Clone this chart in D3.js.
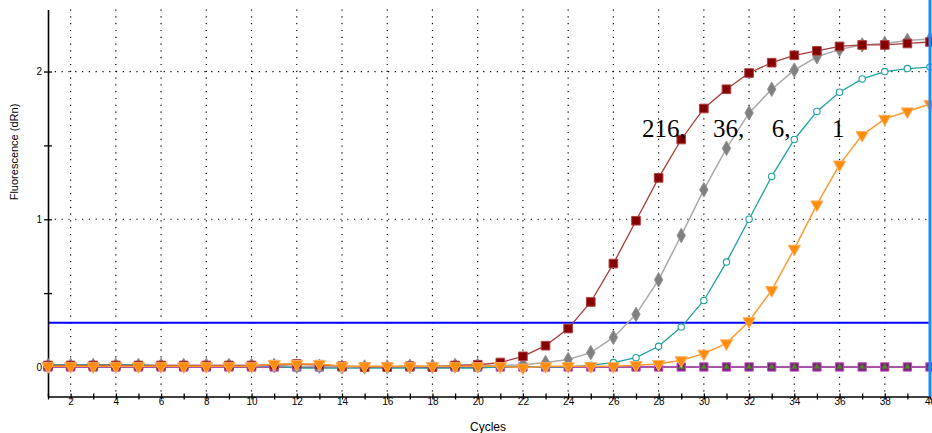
<!DOCTYPE html>
<html>
<head>
<meta charset="utf-8">
<script src="https://cdn.jsdelivr.net/npm/d3@7"></script>
<style>
    body { margin: 0; background: #fff; }
    svg { display: block; }
</style>
</head>
<body>
<div id="chart-area"></div>
<script>
// amplification curves, one value per cycle (1..40)
var cycles = d3.range(1, 41);

var s216 = [0.01, 0.01, 0.01, 0.01, 0.01, 0.01, 0.01, 0.01, 0.01, 0.01,
    0.015, 0.02, 0.015, 0.005, 0.0, 0.0, 0.005, 0.0, 0.01, 0.015,
    0.03, 0.072, 0.144, 0.26, 0.44, 0.70, 0.99, 1.28, 1.54, 1.75,
    1.88, 1.99, 2.06, 2.11, 2.14, 2.17, 2.18, 2.18, 2.19, 2.20];

var s36 = [0.01, 0.01, 0.01, 0.01, 0.01, 0.01, 0.01, 0.01, 0.01, 0.01,
    0.01, 0.005, 0.005, 0.0, 0.0, 0.0, 0.005, 0.005, 0.01, 0.01,
    0.01, 0.015, 0.03, 0.05, 0.097, 0.20, 0.356, 0.59, 0.89, 1.20,
    1.48, 1.72, 1.88, 2.01, 2.10, 2.15, 2.18, 2.19, 2.21, 2.22];

var s6 = [0.015, 0.015, 0.015, 0.015, 0.015, 0.008, 0.008, 0.008, 0.008, 0.008,
    0.008, -0.008, -0.008, -0.008, -0.008, -0.008, -0.008, -0.008, -0.008, -0.008,
    0.0, 0.0, 0.0, 0.0, 0.012, 0.03, 0.063, 0.14, 0.27, 0.45,
    0.71, 1.00, 1.29, 1.54, 1.73, 1.86, 1.95, 2.00, 2.02, 2.03];

var s1 = [0.005, 0.005, 0.005, 0.005, 0.005, 0.005, 0.005, 0.005, 0.005, 0.005,
    0.02, 0.02, 0.02, 0.005, 0.005, 0.005, 0.005, 0.005, 0.005, 0.005,
    0.005, -0.005, 0.005, 0.005, 0.005, 0.005, 0.012, 0.02, 0.045, 0.09,
    0.16, 0.31, 0.52, 0.80, 1.10, 1.37, 1.57, 1.68, 1.73, 1.78];

var sNeg = [0, 0, 0, 0, 0, 0, 0, 0, 0, 0,
    0, 0, 0, 0, 0, 0, 0, 0, 0, 0,
    0, 0, 0, 0, 0, 0, 0, 0, 0, 0,
    0, 0, 0, 0, 0, 0, 0, 0, 0, 0];

var threshold = 0.30;

var yMajorTicks = [0, 1, 2];
var yAllTicks = [0, 0.5, 1, 1.5, 2];
var xGridTicks = d3.range(2, 40, 2);

var curveLabels = ["216,", "36,", "6,", "1"];
var curveLabelCycles = [27.27, 30.4, 33.0, 35.67];
var curveLabelLevel = 1.557;

var width = 932;
var height = 433;

var svg = d3.select("#chart-area")
    .append("svg")
    .attr("width", width)
    .attr("height", height);

var x = d3.scaleLinear()
    .domain([1, 40])
    .range([48, 930]);

var y = d3.scaleLinear()
    .domain([-0.2, 2.42])
    .range([396.5, 9.5]);

// dotted grid
svg.selectAll(".vgrid")
    .data(xGridTicks)
    .enter()
    .append("line")
    .attr("class", "vgrid")
    .attr("x1", function(d) { return x(d); })
    .attr("x2", function(d) { return x(d); })
    .attr("y1", y(2.42))
    .attr("y2", y(-0.2))
    .attr("stroke", "#000")
    .attr("stroke-width", 1.2)
    .attr("stroke-dasharray", "1.2,5.6");

svg.selectAll(".hgrid")
    .data([1, 2])
    .enter()
    .append("line")
    .attr("class", "hgrid")
    .attr("x1", x(1))
    .attr("x2", x(40))
    .attr("y1", function(d) { return y(d); })
    .attr("y2", function(d) { return y(d); })
    .attr("stroke", "#000")
    .attr("stroke-width", 1.2)
    .attr("stroke-dasharray", "1.2,5.6");

// threshold
svg.append("line")
    .attr("x1", x(1))
    .attr("x2", x(40))
    .attr("y1", y(threshold))
    .attr("y2", y(threshold))
    .attr("stroke", "#0000ff")
    .attr("stroke-width", 2);

// axes
var xAxis = d3.axisBottom(x)
    .tickValues(cycles)
    .tickSize(3)
    .tickSizeOuter(0)
    .tickFormat(function(d) { return d % 2 === 0 ? d : ""; });

var gx = svg.append("g")
    .attr("transform", "translate(0," + y(-0.2) + ")")
    .call(xAxis);
gx.selectAll(".tick line").attr("y1", -3).attr("stroke-width", 1.3);
gx.select(".domain").attr("stroke-width", 1.6);
gx.selectAll("text")
    .attr("dy", "0.2em")
    .style("font-family", "Liberation Sans, Arial, sans-serif")
    .style("font-size", "10px");

var yAxis = d3.axisLeft(y)
    .tickValues(yAllTicks)
    .tickSize(4)
    .tickSizeOuter(0)
    .tickFormat(function(d) { return yMajorTicks.indexOf(d) >= 0 ? d : ""; });

var gy = svg.append("g")
    .attr("transform", "translate(" + x(1) + ",0)")
    .call(yAxis);
gy.selectAll(".tick line").attr("x1", 4).attr("stroke-width", 1.3);
gy.select(".domain").attr("stroke-width", 1.6);
gy.selectAll("text")
    .attr("x", -6)
    .style("font-family", "Liberation Sans, Arial, sans-serif")
    .style("font-size", "10px");

svg.append("text")
    .attr("transform", "translate(18,152) rotate(-90)")
    .attr("text-anchor", "middle")
    .style("font-family", "Liberation Sans, Arial, sans-serif")
    .style("font-size", "11px")
    .text("Fluorescence (dRn)");

svg.append("text")
    .attr("x", 488)
    .attr("y", 431)
    .attr("text-anchor", "middle")
    .style("font-family", "Liberation Sans, Arial, sans-serif")
    .style("font-size", "12px")
    .text("Cycles");

// series
var line = d3.line()
    .x(function(d, i) { return x(cycles[i]); })
    .y(function(d) { return y(d); });

function drawLine(values, color, w) {
    svg.append("path")
        .datum(values)
        .attr("d", line)
        .attr("fill", "none")
        .attr("stroke", color)
        .attr("stroke-width", w);
}

function drawMarks(values, symbolType, size, fill, stroke, rotate) {
    svg.append("g")
        .selectAll("path")
        .data(values)
        .enter()
        .append("path")
        .attr("d", d3.symbol().type(symbolType).size(size))
        .attr("transform", function(d, i) {
            return "translate(" + x(cycles[i]) + "," + y(d) + ")" + (rotate ? " rotate(" + rotate + ")" : "");
        })
        .attr("fill", fill)
        .attr("stroke", stroke)
        .attr("stroke-width", 1);
}

// negative control
drawLine(sNeg, "#8b1a8b", 1.6);
drawMarks(sNeg, d3.symbolSquare, 70, "#7a1f7a", "#c050c0", 0);
drawMarks(sNeg, d3.symbolTriangle, 18, "#4a8a20", "none", 0);

// 6
drawLine(s6, "#1fa0a0", 1.3);
svg.append("g")
    .selectAll("circle")
    .data(s6)
    .enter()
    .append("circle")
    .attr("cx", function(d, i) { return x(cycles[i]); })
    .attr("cy", function(d) { return y(d); })
    .attr("r", 3.2)
    .attr("fill", "#fff")
    .attr("stroke", "#1fa0a0")
    .attr("stroke-width", 1.1);

// 36
drawLine(s36, "#a8a8a8", 1.5);
drawMarks(s36, d3.symbolDiamond, 60, "#808080", "#909090", 0);

// 216
drawLine(s216, "#a83a3a", 1.3);
drawMarks(s216, d3.symbolSquare, 75, "#850000", "#b04040", 0);

// 1
drawLine(s1, "#ff9a30", 1.5);
drawMarks(s1, d3.symbolTriangle, 65, "#ff8c0a", "#ffb060", 180);

// cycle 40 marker line
svg.append("line")
    .attr("x1", x(40))
    .attr("x2", x(40))
    .attr("y1", 0)
    .attr("y2", y(-0.2))
    .attr("stroke", "#1e8cff")
    .attr("stroke-width", 3);

// curve labels
svg.selectAll(".clabel")
    .data(curveLabels)
    .enter()
    .append("text")
    .attr("class", "clabel")
    .attr("x", function(d, i) { return x(curveLabelCycles[i]); })
    .attr("y", y(curveLabelLevel))
    .style("font-family", "Liberation Serif, Times New Roman, serif")
    .style("font-size", "25px")
    .text(function(d) { return d; });
</script>
</body>
</html>
